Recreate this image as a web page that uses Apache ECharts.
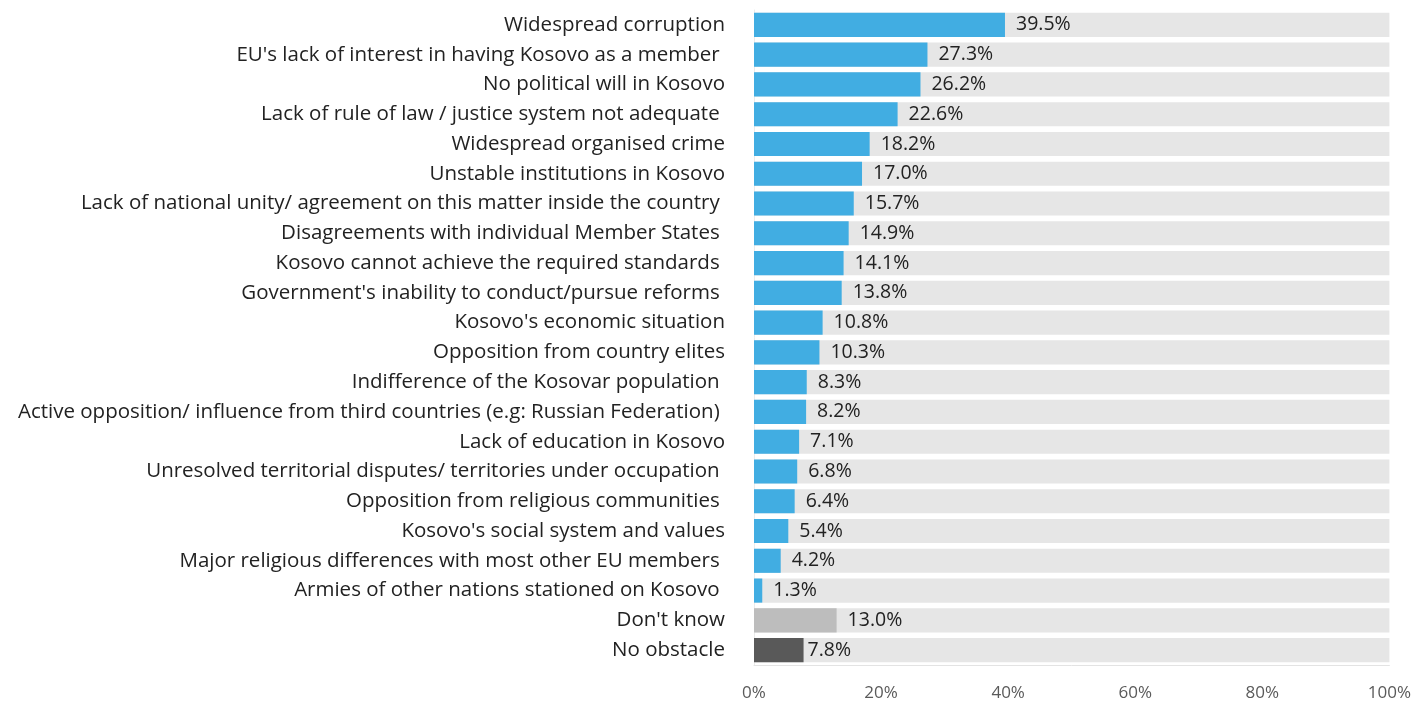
<!DOCTYPE html>
<html>
<head>
<meta charset="utf-8">
<script src="https://cdn.jsdelivr.net/npm/echarts@6/dist/echarts.min.js"></script>
<style>
  html, body { margin: 0; padding: 0; background: #ffffff; }
  #chart { width: 1414px; height: 702px; }
</style>
</head>
<body>
<div id="chart"></div>
<script>
const categories = [
  'Widespread corruption',
  "EU's lack of interest in having Kosovo as a member ",
  'No political will in Kosovo',
  'Lack of rule of law / justice system not adequate ',
  'Widespread organised crime',
  'Unstable institutions in Kosovo',
  'Lack of national unity/ agreement on this matter inside the country ',
  'Disagreements with individual Member States ',
  'Kosovo cannot achieve the required standards ',
  "Government's inability to conduct/pursue reforms ",
  "Kosovo's economic situation",
  'Opposition from country elites',
  'Indifference of the Kosovar population ',
  'Active opposition/ influence from third countries (e.g: Russian Federation) ',
  'Lack of education in Kosovo',
  'Unresolved territorial disputes/ territories under occupation ',
  'Opposition from religious communities ',
  "Kosovo's social system and values",
  'Major religious differences with most other EU members ',
  'Armies of other nations stationed on Kosovo ',
  "Don't know",
  'No obstacle'
];
const values = [39.5, 27.3, 26.2, 22.6, 18.2, 17.0, 15.7, 14.9, 14.1, 13.8, 10.8, 10.3, 8.3, 8.2, 7.1, 6.8, 6.4, 5.4, 4.2, 1.3, 13.0, 7.8];
const barColors = ['#41ADE2', '#BDBDBD', '#595959'];
const xTicks = [0, 20, 40, 60, 80, 100];

const fontFamily = 'Open Sans';

const seriesData = values.map((v, i) => {
  let color = barColors[0];
  if (categories[i] === "Don't know") color = barColors[1];
  if (categories[i] === 'No obstacle') color = barColors[2];
  const item = { value: v, itemStyle: { color: color } };
  if (categories[i] === 'No obstacle') item.label = { distance: 4 };
  return item;
});

const myChart = echarts.init(document.getElementById('chart'));
const option = {
  animation: false,
  backgroundColor: '#ffffff',
  grid: {
    left: 754,
    right: 21,
    top: 10,
    bottom: 37,
    containLabel: false
  },
  xAxis: {
    type: 'value',
    min: xTicks[0],
    max: xTicks[xTicks.length - 1],
    interval: 20,
    axisLine: { show: true, lineStyle: { color: '#E3E3E3' } },
    axisTick: { show: false },
    splitLine: { show: false },
    axisLabel: {
      margin: 20,
      color: '#5a5a5a',
      fontSize: 17,
      fontFamily: fontFamily,
      formatter: '{value}%'
    }
  },
  yAxis: {
    type: 'category',
    inverse: true,
    data: categories,
    axisLine: { show: true, lineStyle: { color: '#EBEBEB' } },
    axisTick: { show: false },
    axisLabel: {
      margin: 29,
      color: '#222222',
      fontSize: 20.5,
      fontFamily: fontFamily
    }
  },
  series: [
    {
      type: 'bar',
      data: seriesData,
      barWidth: '81%',
      showBackground: true,
      backgroundStyle: { color: '#E6E6E6' },
      label: {
        show: true,
        position: 'right',
        distance: 11,
        color: '#222222',
        fontSize: 19.5,
        fontFamily: fontFamily,
        formatter: p => p.value.toFixed(1) + '%'
      }
    }
  ]
};
myChart.setOption(option);
window.onresize = () => myChart.resize();
</script>
</body>
</html>
